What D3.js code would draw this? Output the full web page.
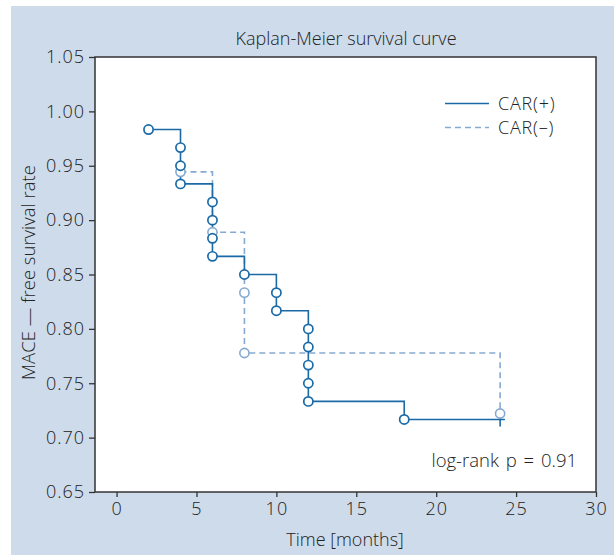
<!DOCTYPE html>
<html>
<head>
<meta charset="utf-8">
<script src="https://cdn.jsdelivr.net/npm/d3@7"></script>
<style>
  html, body { margin: 0; padding: 0; background: #ffffff; }
  svg { display: block; }
  text { font-family: "Open Sans", "Noto Sans", sans-serif; fill: #222; font-weight: 300; }
</style>
</head>
<body>
<script>
// ---- data ----
const title = "Kaplan-Meier survival curve";
const xLabel = "Time [months]";
const yLabel = "MACE \u2014 free survival rate";
const seriesNames = ["CAR(+)", "CAR(\u2013)"];
const annotation = "log-rank p = 0.91";

const xTicks = [0, 5, 10, 15, 20, 25, 30];
const yTicks = [0.65, 0.70, 0.75, 0.80, 0.85, 0.90, 0.95, 1.00, 1.05];

// CAR(+) : event times and survival after each marked step
const carPosTime  = [2, 4, 4, 4, 6, 6, 6, 6, 8, 10, 10, 12, 12, 12, 12, 12, 18];
const carPosSurv  = [0.9833, 0.9667, 0.95, 0.9333, 0.9167, 0.90, 0.8833, 0.8667, 0.85,
                     0.8333, 0.8167, 0.80, 0.7833, 0.7667, 0.75, 0.7333, 0.7167];
const carPosEnd   = 24.3;   // end of follow-up line
const carPosCensor = 24;    // censor tick

// CAR(-)
const carNegTime = [4, 6, 8, 8, 24];
const carNegSurv = [0.9444, 0.8889, 0.8333, 0.7778, 0.7222];

// ---- layout ----
const W = 614, H = 555;
const plot = { left: 95, right: 596, top: 57, bottom: 492 };
const darkBlue = "#1b6aa6";
const lightBlue = "#86a9d2";

const svg = d3.select("body").append("svg").attr("width", W).attr("height", H);

svg.append("rect").attr("x", 11).attr("y", 6).attr("width", W - 11).attr("height", H - 6)
  .attr("fill", "#cedbea");

svg.append("rect").attr("x", plot.left).attr("y", plot.top)
  .attr("width", plot.right - plot.left).attr("height", plot.bottom - plot.top)
  .attr("fill", "#ffffff");

const x = d3.scaleLinear().domain([-1.35, 30]).range([plot.left, plot.right]);
const y = d3.scaleLinear().domain([0.65, 1.05]).range([plot.bottom, plot.top]);

// axes
const xAxis = svg.append("g").attr("transform", `translate(0,${plot.bottom})`)
  .call(d3.axisBottom(x).tickValues(xTicks).tickFormat(d3.format("d")).tickSize(5).tickSizeOuter(0));
const yAxis = svg.append("g").attr("transform", `translate(${plot.left},0)`)
  .call(d3.axisLeft(y).tickValues(yTicks).tickFormat(d3.format(".2f")).tickSize(6).tickSizeOuter(0));
[xAxis, yAxis].forEach(g => {
  g.select(".domain").remove();
  g.selectAll(".tick line").attr("stroke", "#333").attr("stroke-width", 1.3);
  g.selectAll(".tick text").attr("font-size", 18).attr("fill", "#222")
    .style("font-family", '"Open Sans", "Noto Sans", sans-serif')
    .style("font-weight", 300)
    .style("letter-spacing", "1px");
});
xAxis.selectAll(".tick text").attr("dy", "0.95em").attr("y", 6);
yAxis.selectAll(".tick text").attr("x", -10);

// frame
svg.append("rect").attr("x", plot.left).attr("y", plot.top)
  .attr("width", plot.right - plot.left).attr("height", plot.bottom - plot.top)
  .attr("fill", "none").attr("stroke", "#333").attr("stroke-width", 1.5);

// title and labels
svg.append("text").attr("x", 346).attr("y", 45)
  .attr("text-anchor", "middle").attr("font-size", 18).text(title);
svg.append("text").attr("x", 345).attr("y", 546)
  .attr("text-anchor", "middle").attr("font-size", 18).text(xLabel);
svg.append("text").attr("transform", `translate(35,${(plot.top + plot.bottom) / 2 - 2}) rotate(-90)`)
  .attr("text-anchor", "middle").attr("font-size", 18.5).text(yLabel);

// series
const posPts = carPosTime.map((t, i) => [t, carPosSurv[i]]);
const posLinePts = posPts.concat([[carPosEnd, carPosSurv[carPosSurv.length - 1]]]);
const negPts = carNegTime.map((t, i) => [t, carNegSurv[i]]);

const line = d3.line().x(d => x(d[0])).y(d => y(d[1])).curve(d3.curveStepAfter);

svg.append("path").datum(negPts).attr("d", line).attr("fill", "none")
  .attr("stroke", lightBlue).attr("stroke-width", 1.6).attr("stroke-dasharray", "6,4");
svg.append("path").datum(posLinePts).attr("d", line).attr("fill", "none")
  .attr("stroke", darkBlue).attr("stroke-width", 1.6);

// censor tick
const lastSurv = carPosSurv[carPosSurv.length - 1];
svg.append("line").attr("x1", x(carPosCensor)).attr("x2", x(carPosCensor))
  .attr("y1", y(lastSurv) - 7).attr("y2", y(lastSurv) + 7)
  .attr("stroke", darkBlue).attr("stroke-width", 1.6);

svg.append("g").selectAll("circle").data(negPts).join("circle")
  .attr("cx", d => x(d[0])).attr("cy", d => y(d[1])).attr("r", 4.6)
  .attr("fill", "#fff").attr("stroke", lightBlue).attr("stroke-width", 1.6);
svg.append("g").selectAll("circle").data(posPts).join("circle")
  .attr("cx", d => x(d[0])).attr("cy", d => y(d[1])).attr("r", 4.6)
  .attr("fill", "#fff").attr("stroke", darkBlue).attr("stroke-width", 1.7);

// legend
const legend = svg.append("g");
const legendItems = [
  { name: seriesNames[0], color: darkBlue, dash: null },
  { name: seriesNames[1], color: lightBlue, dash: "6,4" }
];
legendItems.forEach((it, i) => {
  const ly = 103.5 + i * 24;
  legend.append("line").attr("x1", 445).attr("x2", 489).attr("y1", ly).attr("y2", ly)
    .attr("stroke", it.color).attr("stroke-width", 1.6).attr("stroke-dasharray", it.dash);
  legend.append("text").attr("x", 498).attr("y", ly + 6).attr("font-size", 18)
    .style("letter-spacing", "0.8px").text(it.name);
});

svg.append("text").attr("x", 577).attr("y", 467).attr("text-anchor", "end")
  .attr("font-size", 18.5).style("word-spacing", "2px").text(annotation);
</script>
</body>
</html>
